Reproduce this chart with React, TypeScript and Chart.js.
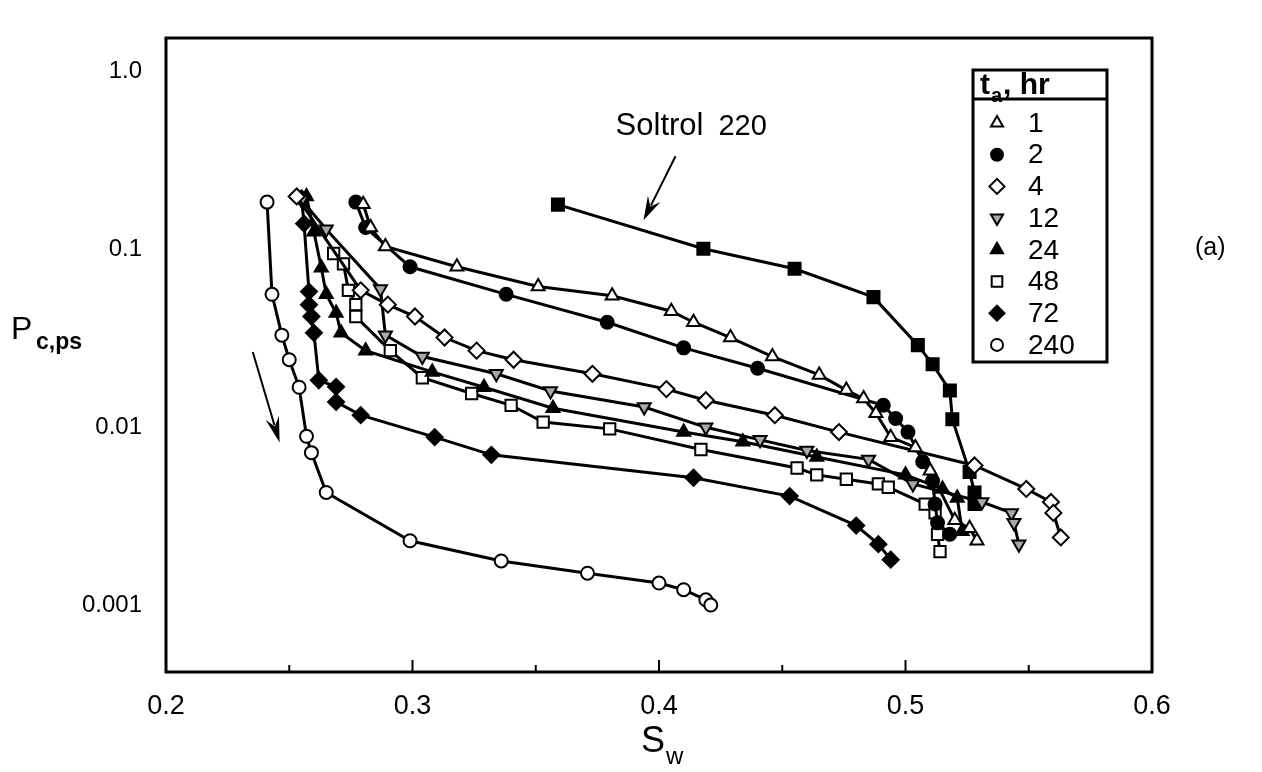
import React, { useEffect, useRef } from 'react';
import { Chart, registerables } from 'chart.js';
import { drawPoint } from 'chart.js/helpers';

Chart.register(...registerables);

const FONT = '"Liberation Sans", Arial, Helvetica, sans-serif';
const NARROW = '"Liberation Sans Narrow", "Arial Narrow", "Liberation Sans", Arial, sans-serif';

// ---- data (Sw, Pc,ps) ----
const sw1 = [0.280, 0.283, 0.289, 0.318, 0.351, 0.381, 0.405, 0.414, 0.429, 0.446, 0.465, 0.476, 0.483, 0.488, 0.494, 0.504, 0.510, 0.520, 0.526, 0.529];
const pc1 = [0.18, 0.133, 0.104, 0.080, 0.062, 0.055, 0.045, 0.039, 0.032, 0.025, 0.0197, 0.0162, 0.0145, 0.012, 0.0088, 0.0077, 0.0057, 0.0030, 0.0027, 0.0023];

const sw2 = [0.277, 0.281, 0.299, 0.338, 0.379, 0.410, 0.440, 0.491, 0.496, 0.501, 0.507, 0.511, 0.512, 0.513, 0.518];
const pc2 = [0.185, 0.133, 0.080, 0.056, 0.039, 0.028, 0.0215, 0.0133, 0.0112, 0.0094, 0.0064, 0.0050, 0.0037, 0.0029, 0.0025];

const sw4 = [0.253, 0.279, 0.290, 0.301, 0.313, 0.326, 0.341, 0.373, 0.403, 0.419, 0.447, 0.473, 0.528, 0.549, 0.559, 0.560, 0.563];
const pc4 = [0.199, 0.059, 0.049, 0.042, 0.032, 0.027, 0.024, 0.020, 0.0164, 0.0142, 0.0117, 0.0094, 0.0061, 0.0045, 0.0038, 0.0033, 0.0024];

const sw12 = [0.255, 0.265, 0.287, 0.289, 0.304, 0.334, 0.356, 0.394, 0.419, 0.441, 0.460, 0.485, 0.503, 0.531, 0.543, 0.544, 0.546];
const pc12 = [0.19, 0.13, 0.060, 0.033, 0.025, 0.020, 0.016, 0.013, 0.010, 0.0085, 0.0074, 0.0066, 0.0048, 0.0038, 0.0033, 0.0029, 0.0022];

const sw24 = [0.257, 0.260, 0.263, 0.265, 0.269, 0.271, 0.281, 0.308, 0.329, 0.357, 0.410, 0.434, 0.464, 0.500, 0.515, 0.521, 0.523];
const pc24 = [0.199, 0.126, 0.079, 0.056, 0.044, 0.034, 0.027, 0.0205, 0.0168, 0.0128, 0.0094, 0.0083, 0.0068, 0.0054, 0.0045, 0.0040, 0.0026];

const sw48 = [0.268, 0.272, 0.274, 0.277, 0.277, 0.291, 0.304, 0.324, 0.340, 0.353, 0.380, 0.417, 0.456, 0.464, 0.476, 0.489, 0.493, 0.508, 0.512, 0.513, 0.514];
const pc48 = [0.095, 0.083, 0.059, 0.049, 0.042, 0.027, 0.019, 0.0155, 0.0133, 0.0107, 0.0098, 0.0075, 0.0059, 0.0054, 0.0051, 0.0048, 0.0046, 0.0037, 0.0033, 0.0025, 0.0020];

const sw72 = [0.255, 0.256, 0.258, 0.258, 0.259, 0.260, 0.262, 0.269, 0.269, 0.279, 0.309, 0.332, 0.414, 0.453, 0.480, 0.489, 0.494];
const pc72 = [0.194, 0.14, 0.058, 0.049, 0.042, 0.034, 0.0184, 0.0169, 0.0139, 0.0117, 0.0088, 0.0070, 0.0052, 0.0041, 0.0028, 0.0022, 0.0018];

const sw240 = [0.241, 0.243, 0.247, 0.250, 0.254, 0.257, 0.259, 0.265, 0.299, 0.336, 0.371, 0.400, 0.410, 0.419, 0.421];
const pc240 = [0.185, 0.056, 0.033, 0.024, 0.0168, 0.0089, 0.0072, 0.0043, 0.0023, 0.00177, 0.00151, 0.00133, 0.00122, 0.00107, 0.0010];

const swSoltrol = [0.359, 0.418, 0.455, 0.487, 0.505, 0.511, 0.518, 0.519, 0.526, 0.528, 0.528];
const pcSoltrol = [0.179, 0.101, 0.078, 0.054, 0.029, 0.0226, 0.0161, 0.0111, 0.0056, 0.0043, 0.0037];

const legendLabels = ['1', '2', '4', '12', '24', '48', '72', '240'];
const xTickValues = [0.2, 0.3, 0.4, 0.5, 0.6];
const xMinorTickValues = [0.25, 0.35, 0.45, 0.55];
const yTickValues = [0.001, 0.01, 0.1, 1];
const yTickLabels = ['0.001', '0.01', '0.1', '1.0'];
const xRange = [0.2, 0.6];
const yRange = [0.00042, 1.55];

// annotation anchors in data coordinates
const soltrolLabelAt = { x: 0.3824, y: 0.44 };
const soltrolArrow = [{ x: 0.4067, y: 0.335 }, { x: 0.3937, y: 0.146 }];
const directionArrow = [{ x: 0.2352, y: 0.0265 }, { x: 0.2461, y: 0.0082 }];

type Style = { pointStyle: any; fill: string; rotation: number; radius: number };
const styles: Style[] = [
  { pointStyle: 'triangle', fill: '#ffffff', rotation: 0, radius: 7.5 },
  { pointStyle: 'circle', fill: '#000000', rotation: 0, radius: 6.5 },
  { pointStyle: 'rectRot', fill: '#ffffff', rotation: 0, radius: 8 },
  { pointStyle: 'triangle', fill: '#a8a8a8', rotation: 180, radius: 7.5 },
  { pointStyle: 'triangle', fill: '#000000', rotation: 0, radius: 7.5 },
  { pointStyle: 'rect', fill: '#ffffff', rotation: 0, radius: 8 },
  { pointStyle: 'rectRot', fill: '#000000', rotation: 0, radius: 8 },
  { pointStyle: 'circle', fill: '#ffffff', rotation: 0, radius: 6.5 },
];
const soltrolStyle: Style = { pointStyle: 'rect', fill: '#000000', rotation: 0, radius: 8.5 };

const seriesX = [sw1, sw2, sw4, sw12, sw24, sw48, sw72, sw240];
const seriesY = [pc1, pc2, pc4, pc12, pc24, pc48, pc72, pc240];

function makeDataset(label: string, xs: number[], ys: number[], st: Style) {
  return {
    label,
    data: xs.map((x, i) => ({ x, y: ys[i] })),
    showLine: true,
    borderColor: '#000',
    borderWidth: 3,
    tension: 0,
    pointStyle: st.pointStyle,
    pointRotation: st.rotation,
    pointRadius: st.radius,
    pointBackgroundColor: st.fill,
    pointBorderColor: '#000',
    pointBorderWidth: 2,
  };
}

function arrow(ctx: CanvasRenderingContext2D, x1: number, y1: number, x2: number, y2: number, len: number, half: number) {
  const a = Math.atan2(y2 - y1, x2 - x1);
  const c = Math.cos(a), s = Math.sin(a);
  ctx.beginPath();
  ctx.moveTo(x1, y1);
  ctx.lineTo(x2 - c * len * 0.7, y2 - s * len * 0.7);
  ctx.stroke();
  ctx.beginPath();
  ctx.moveTo(x2, y2);
  ctx.lineTo(x2 - len * c + half * s, y2 - len * s - half * c);
  ctx.lineTo(x2 - len * 0.65 * c, y2 - len * 0.65 * s);
  ctx.lineTo(x2 - len * c - half * s, y2 - len * s + half * c);
  ctx.closePath();
  ctx.fill();
}

const decorPlugin = {
  id: 'decor',
  afterDraw(chart: any) {
    const ctx: CanvasRenderingContext2D = chart.ctx;
    const ca = chart.chartArea;
    const xs = chart.scales.x;
    const ys = chart.scales.y;
    ctx.save();
    ctx.fillStyle = '#000';
    ctx.strokeStyle = '#000';

    // frame
    ctx.lineWidth = 3;
    ctx.strokeRect(ca.left, ca.top, ca.right - ca.left, ca.bottom - ca.top);

    // inward ticks on x axis
    ctx.lineWidth = 2;
    xTickValues.slice(1, -1).forEach((v) => {
      const px = xs.getPixelForValue(v);
      ctx.beginPath(); ctx.moveTo(px, ca.bottom); ctx.lineTo(px, ca.bottom - 12); ctx.stroke();
    });
    xMinorTickValues.forEach((v) => {
      const px = xs.getPixelForValue(v);
      ctx.beginPath(); ctx.moveTo(px, ca.bottom); ctx.lineTo(px, ca.bottom - 7); ctx.stroke();
    });

    // axis titles
    ctx.textBaseline = 'alphabetic';
    ctx.textAlign = 'left';
    const midX = (ca.left + ca.right) / 2;
    ctx.font = `36px ${FONT}`;
    const sW = ctx.measureText('S').width;
    ctx.fillText('S', midX - sW / 2 - 6, 752);
    ctx.font = `24px ${NARROW}`;
    ctx.fillText('w', midX + sW / 2 - 5, 764);

    ctx.font = `32px ${FONT}`;
    ctx.fillText('P', 11, 339);
    ctx.font = `bold 23px ${FONT}`;
    ctx.fillText('c,ps', 36, 349);

    // (a)
    ctx.font = `25px ${FONT}`;
    ctx.fillText('(a)', ca.right + 43, 255);

    // Soltrol label + arrow
    const lx = xs.getPixelForValue(soltrolLabelAt.x);
    const ly = ys.getPixelForValue(soltrolLabelAt.y);
    ctx.font = `31px ${FONT}`;
    ctx.fillText('Soltrol', lx, ly);
    const w1 = ctx.measureText('Soltrol').width;
    ctx.font = `29px ${FONT}`;
    ctx.fillText('220', lx + w1 + 15, ly);
    ctx.lineWidth = 2;
    arrow(ctx, xs.getPixelForValue(soltrolArrow[0].x), ys.getPixelForValue(soltrolArrow[0].y),
      xs.getPixelForValue(soltrolArrow[1].x), ys.getPixelForValue(soltrolArrow[1].y), 24, 7);
    arrow(ctx, xs.getPixelForValue(directionArrow[0].x), ys.getPixelForValue(directionArrow[0].y),
      xs.getPixelForValue(directionArrow[1].x), ys.getPixelForValue(directionArrow[1].y), 26, 7);

    // legend box
    const L = ca.right - 179, R = ca.right - 45, T = ca.top + 32, B = ca.top + 324;
    ctx.fillStyle = '#fff';
    ctx.fillRect(L, T, R - L, B - T);
    ctx.fillStyle = '#000';
    ctx.lineWidth = 3;
    ctx.strokeRect(L, T, R - L, B - T);
    ctx.beginPath(); ctx.moveTo(L, T + 29); ctx.lineTo(R, T + 29); ctx.stroke();
    ctx.font = `bold 30px ${FONT}`;
    ctx.fillText('t', L + 7, T + 24);
    const tw = ctx.measureText('t').width;
    ctx.font = `bold 20px ${FONT}`;
    ctx.fillText('a', L + 7 + tw + 1, T + 32);
    const aw = ctx.measureText('a').width;
    ctx.font = `bold 30px ${FONT}`;
    ctx.fillText(', hr', L + 7 + tw + aw + 2, T + 24);

    ctx.textBaseline = 'middle';
    ctx.font = `28px ${FONT}`;
    legendLabels.forEach((lab, i) => {
      const cy = T + 53 + i * 31.7;
      const st = styles[i];
      ctx.fillStyle = st.fill;
      ctx.strokeStyle = '#000';
      ctx.lineWidth = 2;
      drawPoint(ctx, { pointStyle: st.pointStyle, rotation: st.rotation, radius: st.radius - 0.5, borderWidth: 2 } as any, L + 24, cy);
      ctx.fillStyle = '#000';
      ctx.fillText(lab, L + 55, cy + 1);
    });
    ctx.restore();
  },
};

export default function App() {
  const ref = useRef<HTMLCanvasElement>(null);
  useEffect(() => {
    document.body.style.margin = '0';
    const datasets: any[] = legendLabels.map((lab, i) => makeDataset(lab, seriesX[i], seriesY[i], styles[i]));
    datasets.push(makeDataset('Soltrol 220', swSoltrol, pcSoltrol, soltrolStyle));
    const chart = new Chart(ref.current as HTMLCanvasElement, {
      type: 'scatter',
      data: { datasets },
      options: {
        animation: false,
        responsive: false,
        devicePixelRatio: 1,
        layout: { padding: { top: 38, right: 110, left: 0, bottom: 0 } },
        plugins: { legend: { display: false }, tooltip: { enabled: false } },
        scales: {
          x: {
            type: 'linear',
            min: xRange[0],
            max: xRange[1],
            grid: { display: false },
            border: { display: false },
            afterBuildTicks: (s: any) => { s.ticks = xTickValues.map((v) => ({ value: v })); },
            afterFit: (s: any) => { s.height = 100; },
            ticks: {
              color: '#000',
              padding: 10,
              font: { family: NARROW, size: 27 },
              callback: (v: any) => Number(v).toFixed(1),
            },
          },
          y: {
            type: 'logarithmic',
            min: yRange[0],
            max: yRange[1],
            grid: { display: false },
            border: { display: false },
            afterBuildTicks: (s: any) => { s.ticks = yTickValues.map((v) => ({ value: v })); },
            afterFit: (s: any) => { s.width = 166; },
            ticks: {
              color: '#000',
              padding: 16,
              font: { family: FONT, size: 24 },
              callback: (_v: any, i: number) => yTickLabels[i],
            },
          },
        },
      } as any,
      plugins: [decorPlugin],
    });
    return () => chart.destroy();
  }, []);
  return (
    <div style={{ width: 1262, height: 772 }}>
      <canvas ref={ref} width={1262} height={772} style={{ display: 'block' }} />
    </div>
  );
}
